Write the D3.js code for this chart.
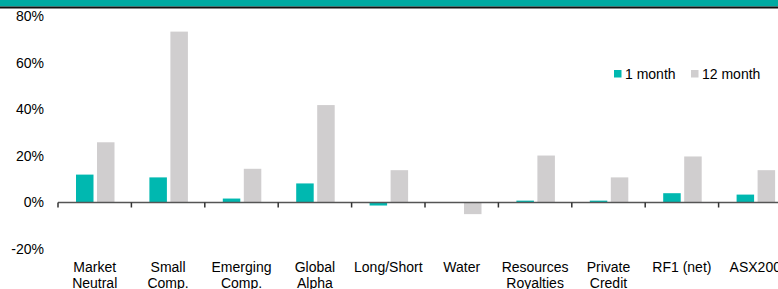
<!DOCTYPE html>
<html>
<head>
<meta charset="utf-8">
<script src="https://cdn.jsdelivr.net/npm/d3@7"></script>
<style>
  body { margin: 0; background: #fff; }
  text { font-family: "Liberation Sans", Arial, sans-serif; fill: #000; }
</style>
</head>
<body>
<div class="chart"></div>
<script>
var svgWidth = 778;
var svgHeight = 289;

// categories and series (in %)
var categories = [["Market", "Neutral"], ["Small", "Comp."], ["Emerging", "Comp."], ["Global", "Alpha"],
  ["Long/Short"], ["Water"], ["Resources", "Royalties"], ["Private", "Credit"], ["RF1 (net)"], ["ASX200"]];
var oneMonth = [12.0, 10.8, 1.7, 8.2, -1.3, 0.0, 0.8, 0.8, 4.0, 3.4];
var twelveMonth = [25.9, 73.5, 14.5, 41.9, 13.9, -5.0, 20.2, 10.8, 19.8, 13.9];
var yTicks = [-20, 0, 20, 40, 60, 80];
var seriesNames = ["1 month", "12 month"];
var colors = ["#00b8b0", "#d0cecf"];

var svg = d3.select(".chart").append("svg")
  .attr("width", svgWidth)
  .attr("height", svgHeight);

// top banner
svg.append("rect").attr("x", 0).attr("y", 0).attr("width", svgWidth).attr("height", 6.5).attr("fill", "#00aaa2");
svg.append("rect").attr("x", 0).attr("y", 6.5).attr("width", svgWidth).attr("height", 2).attr("fill", "#111");

var x = d3.scaleBand()
  .domain(d3.range(categories.length))
  .range([58, 58 + 73.4 * categories.length]);

var y = d3.scaleLinear()
  .domain([-20, 80])
  .range([249, 16.5]);

// y labels
svg.append("g").selectAll("text")
  .data(yTicks)
  .enter()
  .append("text")
  .attr("x", 44)
  .attr("y", d => y(d))
  .attr("dy", "0.35em")
  .attr("text-anchor", "end")
  .style("font-size", "14px")
  .text(d => d + "%");

var barW = 17.5;
var inner = 3.5;
var offs = [18, 18 + barW + inner];

[oneMonth, twelveMonth].forEach(function(vals, s) {
  svg.append("g").selectAll("rect")
    .data(vals)
    .enter()
    .append("rect")
    .attr("x", (d, i) => x(i) + offs[s])
    .attr("width", barW)
    .attr("y", d => y(Math.max(0, d)))
    .attr("height", d => Math.abs(y(d) - y(0)))
    .attr("fill", colors[s]);
});

// x axis
var xAxis = svg.append("g")
  .attr("transform", `translate(0, ${y(0)})`);
xAxis.append("line")
  .attr("x1", x.range()[0]).attr("x2", svgWidth)
  .attr("stroke", "#555").attr("stroke-width", 1.5);
xAxis.selectAll(".tk")
  .data(d3.range(categories.length + 1))
  .enter()
  .append("line")
  .attr("x1", d => x.range()[0] + d * x.bandwidth())
  .attr("x2", d => x.range()[0] + d * x.bandwidth())
  .attr("y1", 0).attr("y2", 5)
  .attr("stroke", "#333").attr("stroke-width", 1.5);

// category labels
var catG = svg.append("g").selectAll("text")
  .data(categories)
  .enter()
  .append("text")
  .attr("x", (d, i) => x(i) + x.bandwidth() / 2)
  .attr("y", 272)
  .attr("text-anchor", "middle")
  .style("font-size", "14px");
catG.selectAll("tspan")
  .data(d => d)
  .enter()
  .append("tspan")
  .attr("x", function() { return d3.select(this.parentNode).attr("x"); })
  .attr("dy", (d, i) => i === 0 ? 0 : 16)
  .text(d => d);

// legend
var legendX = [614, 691];
var legend = svg.append("g");
seriesNames.forEach(function(name, i) {
  legend.append("rect")
    .attr("x", legendX[i]).attr("y", 70).attr("width", 7.5).attr("height", 7.5)
    .attr("fill", colors[i]);
  legend.append("text")
    .attr("x", legendX[i] + 11).attr("y", 74)
    .attr("dy", "0.35em")
    .style("font-size", "14px")
    .text(name);
});
</script>
</body>
</html>
